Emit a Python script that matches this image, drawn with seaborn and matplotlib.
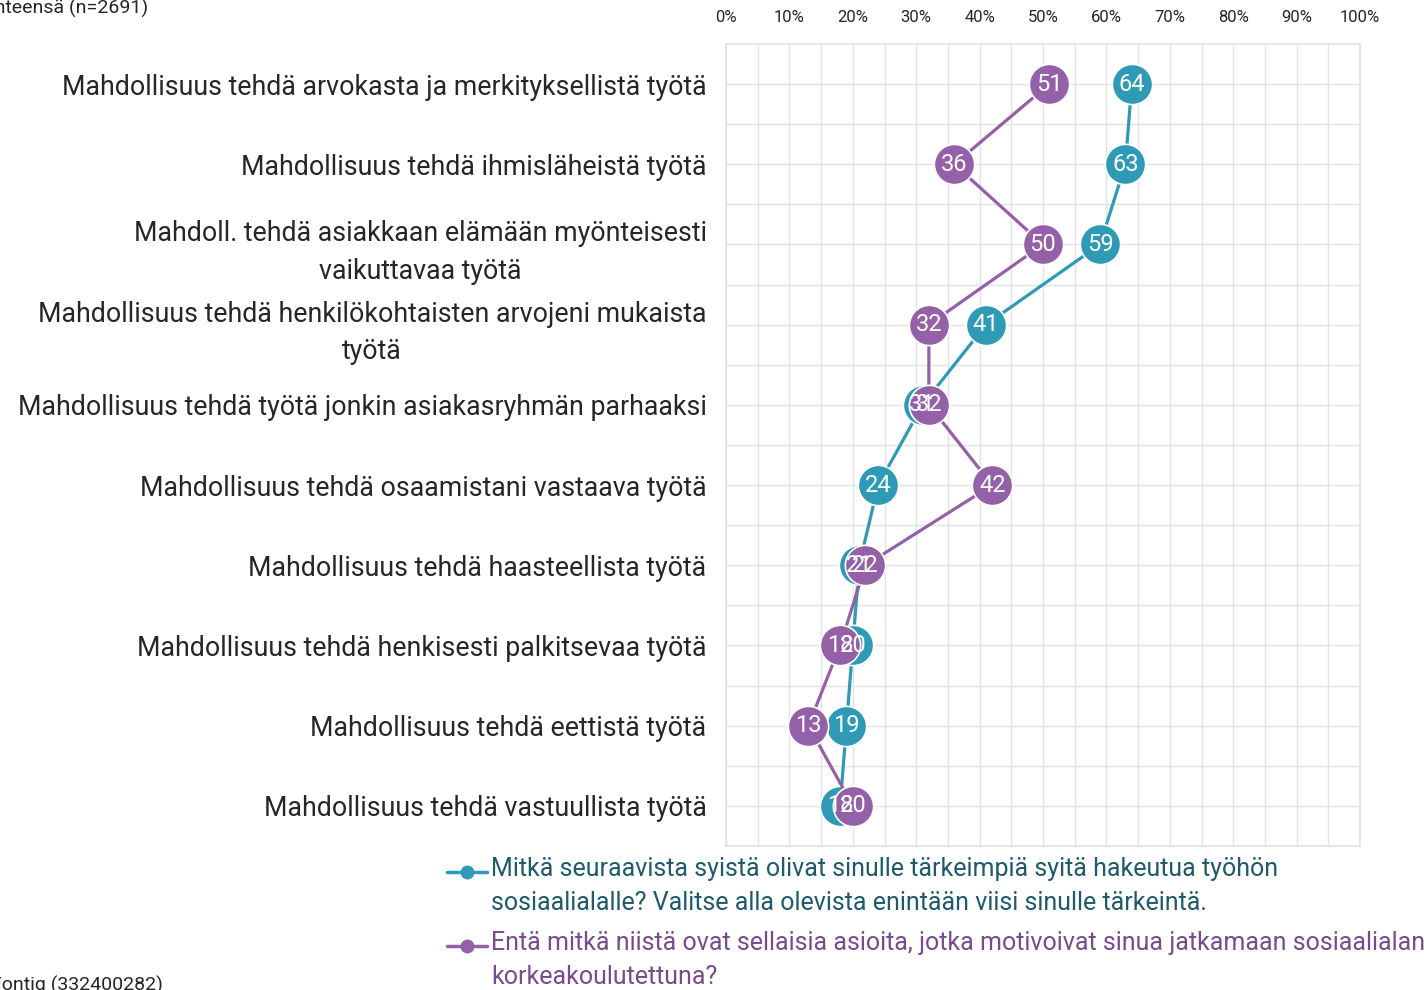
import matplotlib
matplotlib.use("Agg")
import matplotlib.pyplot as plt
from matplotlib import font_manager
from matplotlib.lines import Line2D
import numpy as np
import pandas as pd
import seaborn as sns

categories = [
    "Mahdollisuus tehdä arvokasta ja merkityksellistä työtä",
    "Mahdollisuus tehdä ihmisläheistä työtä",
    "Mahdoll. tehdä asiakkaan elämään myönteisesti\nvaikuttavaa työtä",
    "Mahdollisuus tehdä henkilökohtaisten arvojeni mukaista\ntyötä",
    "Mahdollisuus tehdä työtä jonkin asiakasryhmän parhaaksi",
    "Mahdollisuus tehdä osaamistani vastaava työtä",
    "Mahdollisuus tehdä haasteellista työtä",
    "Mahdollisuus tehdä henkisesti palkitsevaa työtä",
    "Mahdollisuus tehdä eettistä työtä",
    "Mahdollisuus tehdä vastuullista työtä",
]
hakeutua = [64, 63, 59, 41, 31, 24, 21, 20, 19, 18]
jatkamaan = [51, 36, 50, 32, 32, 42, 22, 18, 13, 20]
series_names = [
    "Mitkä seuraavista syistä olivat sinulle tärkeimpiä syitä hakeutua työhön\nsosiaalialalle? Valitse alla olevista enintään viisi sinulle tärkeintä.",
    "Entä mitkä niistä ovat sellaisia asioita, jotka motivoivat sinua jatkamaan sosiaalialan\nkorkeakoulutettuna?",
]
x_ticks = list(range(0, 101, 10))

BLUE = "#2E9AB6"
PURPLE = "#9460A8"
BLUE_TXT = "#1E5A6B"
PURPLE_TXT = "#7A4A8E"

sns.set_theme(style="white")
available = {f.name for f in font_manager.fontManager.ttflist}
main_font = "Liberation Sans Narrow" if "Liberation Sans Narrow" in available else "Roboto"
plt.rcParams["font.family"] = [main_font, "DejaVu Sans"]

df = pd.DataFrame({
    "pos": list(range(len(categories))) * 2,
    "value": hakeutua + jatkamaan,
    "series": [series_names[0]] * len(categories) + [series_names[1]] * len(categories),
})

fig = plt.figure(figsize=(14.24, 9.9), dpi=100)
ax = fig.add_axes([726 / 1424, 1 - 846 / 990, (1360 - 726) / 1424, (846 - 44) / 990])

for name, color in zip(series_names, [BLUE, PURPLE]):
    sub = df[df["series"] == name]
    sns.lineplot(data=sub, x="value", y="pos", orient="y", sort=False, ax=ax,
                 color=color, linewidth=2.3, marker="o", markersize=29,
                 markeredgecolor="white", markeredgewidth=1.2, legend=False)

for vals in [hakeutua, jatkamaan]:
    for i, v in enumerate(vals):
        ax.text(v, i, str(v), ha="center", va="center", color="white",
                fontsize=17, zorder=10)

ax.set_xlim(0, 100)
ax.set_ylim(len(categories) - 0.5, -0.5)
ax.xaxis.tick_top()
ax.set_xticks(x_ticks)
ax.set_xticklabels([f"{t}%" for t in x_ticks], fontsize=12)
ax.set_xticks(np.arange(5, 100, 10), minor=True)
ax.set_yticks(range(len(categories)))
ax.set_yticklabels(categories, fontsize=19.3)
for t in ax.get_yticklabels():
    t.set_multialignment("center")
    t.set_linespacing(1.5)
ax.set_yticks(np.arange(0.5, len(categories) - 0.5, 1), minor=True)
ax.tick_params(axis="both", which="both", length=0)
ax.tick_params(axis="y", pad=14)
ax.tick_params(axis="x", pad=14)
ax.grid(True, which="both", color="#e3e3e3", linewidth=1)
ax.set_axisbelow(True)
for s in ax.spines.values():
    s.set_color("#e3e3e3")
ax.set_xlabel("")
ax.set_ylabel("")

# legend drawn manually: -o- handle and two-line label
for k, (name, color, tcol) in enumerate(zip(series_names, [BLUE, PURPLE], [BLUE_TXT, PURPLE_TXT])):
    y_px = 872 + k * 74
    y = 1 - y_px / 990
    fig.add_artist(Line2D([447 / 1424, 467 / 1424, 487 / 1424], [y, y, y], color=color,
                          linewidth=2.5, marker="o", markersize=9, markevery=[1]))
    fig.text(491 / 1424, 1 - (y_px - 15) / 990, name, ha="left", va="top", color=tcol,
             fontsize=18, linespacing=1.55)

fig.text(-0.012, 1 - 8 / 990, "Yhteensä (n=2691)", ha="left", va="center", fontsize=14)
fig.text(-0.006, 1 - 985 / 990, "Fontig (332400282)", ha="left", va="center", fontsize=14)

fig.savefig("out.png", dpi=100)
